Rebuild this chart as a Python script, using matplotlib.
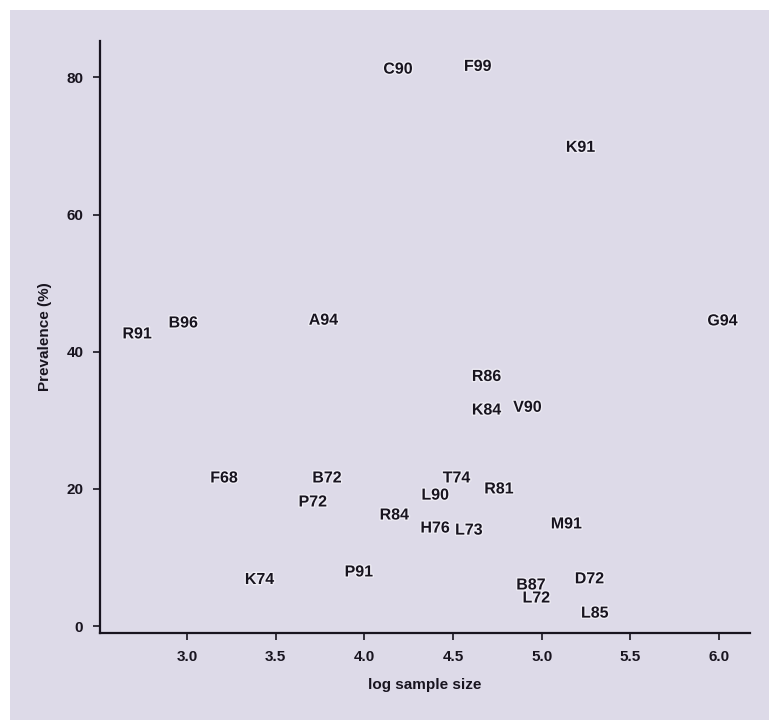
import matplotlib
matplotlib.use('Agg')
import matplotlib.pyplot as plt
from matplotlib.patches import Rectangle
import matplotlib.patheffects as pe

## Dati
labels = ['C90', 'F99', 'K91', 'G94', 'R91', 'B96', 'A94', 'R86', 'K84', 'V90',
          'F68', 'B72', 'T74', 'R81', 'L90', 'P72', 'R84', 'H76', 'L73', 'M91',
          'K74', 'P91', 'B87', 'L72', 'D72', 'L85']
logn = [4.19, 4.64, 5.22, 6.02, 2.72, 2.98, 3.77, 4.69, 4.69, 4.92,
        3.21, 3.79, 4.52, 4.76, 4.40, 3.71, 4.17, 4.40, 4.59, 5.14,
        3.41, 3.97, 4.94, 4.97, 5.27, 5.30]
prev = [81.2, 81.6, 69.8, 44.5, 42.6, 44.2, 44.6, 36.4, 31.5, 31.9,
        21.6, 21.6, 21.6, 20.0, 19.1, 18.1, 16.2, 14.3, 14.0, 14.9,
        6.8, 7.9, 6.0, 4.1, 6.9, 1.9]
xticks = [3.0, 3.5, 4.0, 4.5, 5.0, 5.5, 6.0]
yticks = [0, 20, 40, 60, 80]

bg = '#dddae8'
ink = '#18141f'
plt.rcParams['font.family'] = ['Liberation Sans', 'DejaVu Sans']

fig = plt.figure(figsize=(7.69, 7.2), dpi=100, facecolor='white')
fig.patches.append(Rectangle((10/769, 0), 1, 1 - 10/720, transform=fig.transFigure,
                             facecolor=bg, edgecolor='none', zorder=-10))
ax = fig.add_axes([100/769, 1 - 633/720, 650/769, 592/720])
ax.set_facecolor('none')
ax.set_zorder(5)

halo = [pe.withStroke(linewidth=2, foreground='#eeecf4')]
for lab, x, y in zip(labels, logn, prev):
    ax.text(x, y, lab, ha='center', va='center', fontsize=11.5, fontweight='bold',
            color=ink, path_effects=halo)

ax.set_xlim(2.51, 6.175)
ax.set_ylim(-1.0, 85.3)
ax.set_xticks(xticks)
ax.set_xticklabels(['%.1f' % t for t in xticks])
ax.set_yticks(yticks)
for s in ['top', 'right']:
    ax.spines[s].set_visible(False)
for s in ['left', 'bottom']:
    ax.spines[s].set_linewidth(1.6)
    ax.spines[s].set_color(ink)
ax.tick_params(direction='out', length=5, width=1.2, colors=ink, labelsize=11, pad=7)
for t in ax.get_xticklabels() + ax.get_yticklabels():
    t.set_fontweight('bold')
ax.set_xlabel('log sample size', fontsize=11, fontweight='bold', color=ink, labelpad=10)
ax.set_ylabel('Prevalence (%)', fontsize=11, fontweight='bold', color=ink, labelpad=10)

fig.savefig('out.png', dpi=100, facecolor=fig.get_facecolor())
